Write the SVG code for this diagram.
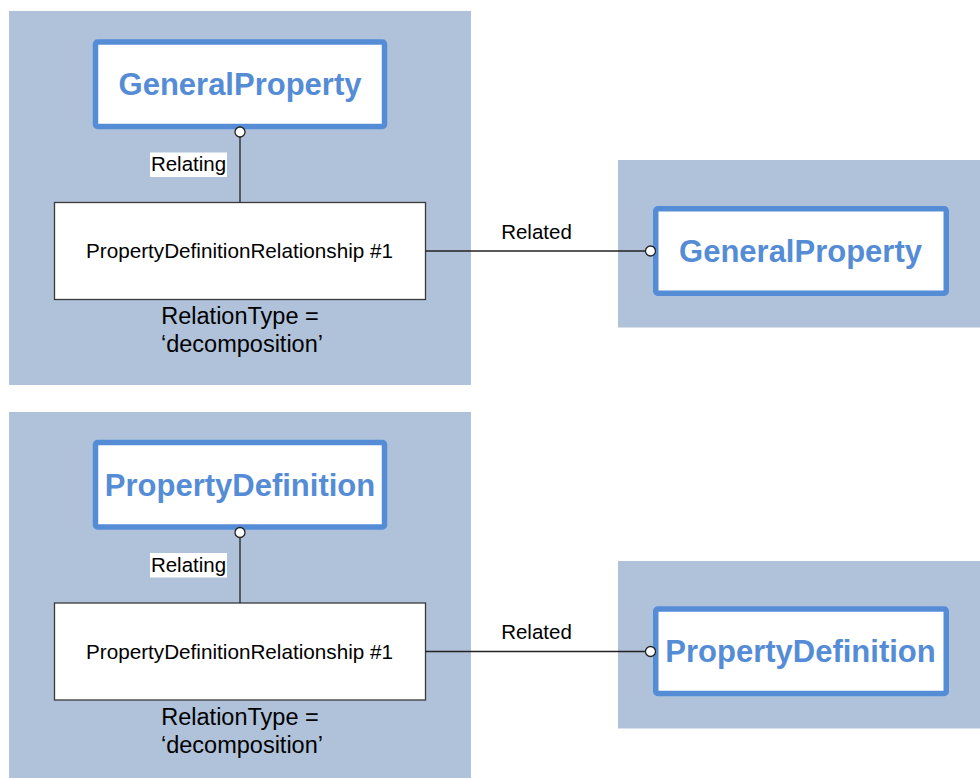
<svg xmlns="http://www.w3.org/2000/svg" width="980" height="778" viewBox="0 0 980 778">
<style>
.panel{fill:#afc2da}
.ent{fill:#fff;stroke:#558cd6;stroke-width:5.5}
.ename{font-family:"Liberation Sans",Arial,sans-serif;font-weight:bold;font-size:31px;fill:#558cd6;text-anchor:middle}
.rel{fill:#fff;stroke:#3a3a3a;stroke-width:1.3}
.t{font-family:"Liberation Sans",Arial,sans-serif;fill:#000;text-anchor:middle}
.line{stroke:#222;stroke-width:1.3;fill:none}
.dot{fill:#fff;stroke:#222;stroke-width:1.3}
</style>
<rect class="panel" x="9" y="11" width="462" height="374"/>
<rect class="panel" x="618" y="160" width="362" height="167.5"/>
<rect class="panel" x="9" y="412" width="462" height="366"/>
<rect class="panel" x="618" y="561" width="362" height="167.5"/>

<g id="gp1">
  <rect class="ent" x="95.5" y="42" width="289" height="84.5" rx="2"/>
  <text class="ename" x="240" y="95">GeneralProperty</text>
</g>
<g id="pdr1">
  <rect class="rel" x="54.5" y="202.5" width="371" height="97"/>
  <text class="t" x="239.5" y="258.3" font-size="20.7">PropertyDefinitionRelationship #1</text>
  <text class="t" x="240" y="324" font-size="23.5">RelationType =</text>
  <text class="t" x="242" y="352" font-size="23.5">‘decomposition’</text>
</g>
<g id="gp2">
  <rect class="ent" x="655.75" y="208.75" width="290.5" height="84.5" rx="2"/>
  <text class="ename" x="800.5" y="262">GeneralProperty</text>
</g>

<g id="pd1">
  <rect class="ent" x="95.5" y="442.5" width="289" height="84.5" rx="2"/>
  <text class="ename" x="240" y="495.5">PropertyDefinition</text>
</g>
<g id="pdr2">
  <rect class="rel" x="54.5" y="603" width="371" height="97"/>
  <text class="t" x="239.5" y="658.8" font-size="20.7">PropertyDefinitionRelationship #1</text>
  <text class="t" x="240" y="724.5" font-size="23.5">RelationType =</text>
  <text class="t" x="242" y="752.5" font-size="23.5">‘decomposition’</text>
</g>
<g id="pd2">
  <rect class="ent" x="655.75" y="609" width="290.5" height="84.5" rx="2"/>
  <text class="ename" x="800.5" y="662">PropertyDefinition</text>
</g>

<g id="connectors">
  <line class="line" x1="240" y1="137" x2="240" y2="202.5"/>
  <circle class="dot" cx="240" cy="132" r="5"/>
  <line class="line" x1="425.5" y1="251" x2="645.5" y2="251"/>
  <circle class="dot" cx="650.5" cy="251" r="5"/>
  <rect x="150" y="152.5" width="77" height="24.5" fill="#fff"/>
  <text class="t" x="188.5" y="171" font-size="20.5">Relating</text>
  <text class="t" x="536.5" y="239" font-size="20.5">Related</text>

  <line class="line" x1="240" y1="537.5" x2="240" y2="603"/>
  <circle class="dot" cx="240" cy="532.5" r="5"/>
  <line class="line" x1="425.5" y1="651.5" x2="645.5" y2="651.5"/>
  <circle class="dot" cx="650.5" cy="651.5" r="5"/>
  <rect x="150" y="553" width="77" height="24.5" fill="#fff"/>
  <text class="t" x="188.5" y="571.5" font-size="20.5">Relating</text>
  <text class="t" x="536.5" y="639" font-size="20.5">Related</text>
</g>
</svg>
